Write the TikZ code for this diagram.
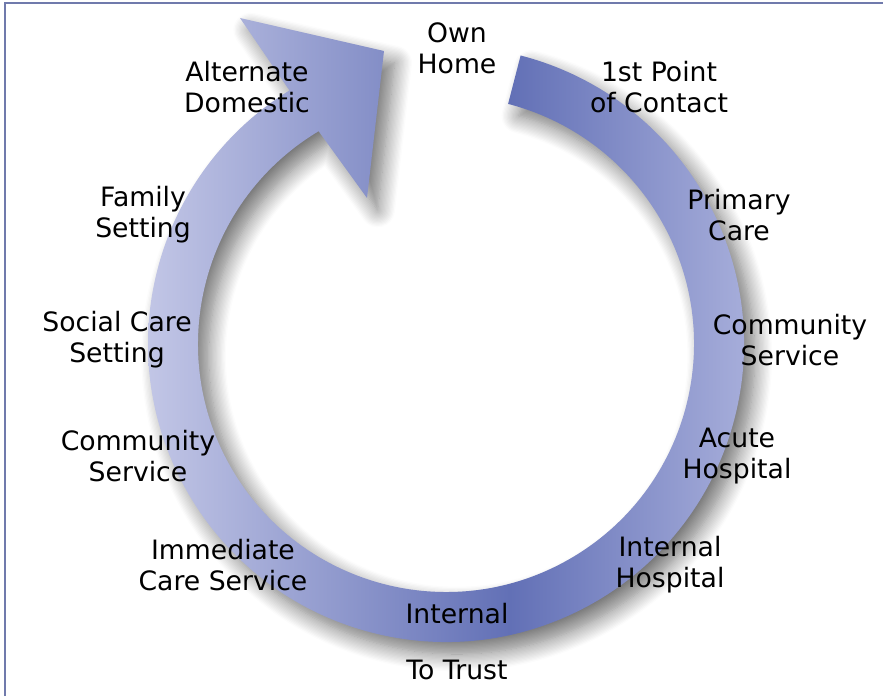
\documentclass[tikz,border=0pt]{standalone}
\usepackage{fontspec}
\setmainfont{DejaVu Sans}
\usepackage{tikz}
\usetikzlibrary{calc, shadows.blur}

\definecolor{ringlight}{RGB}{194,198,230}
\definecolor{ringdark}{RGB}{98,112,182}
\definecolor{ringend}{RGB}{166,173,218}
\definecolor{framecol}{RGB}{112,122,172}

\pgfdeclarehorizontalshading{ringshade}{100bp}{color(0bp)=(ringlight); color(25bp)=(ringlight); color(55.3bp)=(ringdark); color(75bp)=(ringend); color(100bp)=(ringend)}

% outline of the circular arrow (outer edge, head, inner edge)
\newcommand{\looppath}{($(C)+(75.5:298)$) arc[start angle=75.5, end angle=-238.3, radius=298]
  -- (240,678) -- (384,645) -- (367,498)
  -- ($(C)+(120.9:248)$) arc[start angle=120.9, end angle=435.5, radius=248] -- cycle}

\begin{document}
\begin{tikzpicture}[
    x=0.75pt, y=0.75pt,
    lbl/.style={align=center, inner sep=0pt, font=\fontsize{20}{23.25}\selectfont},
    ringshadow/.style={blur shadow={shadow xshift=8pt, shadow yshift=-9pt, shadow blur radius=13pt, shadow blur steps=14, shadow opacity=55}}
  ]
    \useasboundingbox (0,0) rectangle (892,696);
    \coordinate (C) at (446,352);

    \draw[framecol, line width=2pt] (5,0) -- (5,693) -- (883,693);

    \path[ringshadow] \looppath;
    \begin{scope}
      \clip \looppath;
      \shade[shading=ringshade] (148,0) rectangle (745,696);
    \end{scope}

    \node[lbl] (ownhome) at (457,648) {Own\\Home};
    \node[lbl] (firstpoint) at (659,609) {1st Point\\of Contact};
    \node[lbl] (altdomestic) at (247,609) {Alternate\\Domestic};
    \node[lbl] (family) at (143,481) {Family\\Setting};
    \node[lbl] (primary) at (739,481) {Primary\\Care};
    \node[lbl] (socialcare) at (117,356) {Social Care\\Setting};
    \node[lbl] (commright) at (790,356) {Community\\Service};
    \node[lbl] (commleft) at (138,240) {Community\\Service};
    \node[lbl] (acute) at (737,240) {Acute\\Hospital};
    \node[lbl] (immediate) at (223,131) {Immediate\\Care Service};
    \node[lbl] (internalhosp) at (670,131) {Internal\\Hospital};
    \node[lbl] (internal) at (457,82) {Internal};
    \node[lbl] (totrust) at (457,26) {To Trust};
\end{tikzpicture}
\end{document}
